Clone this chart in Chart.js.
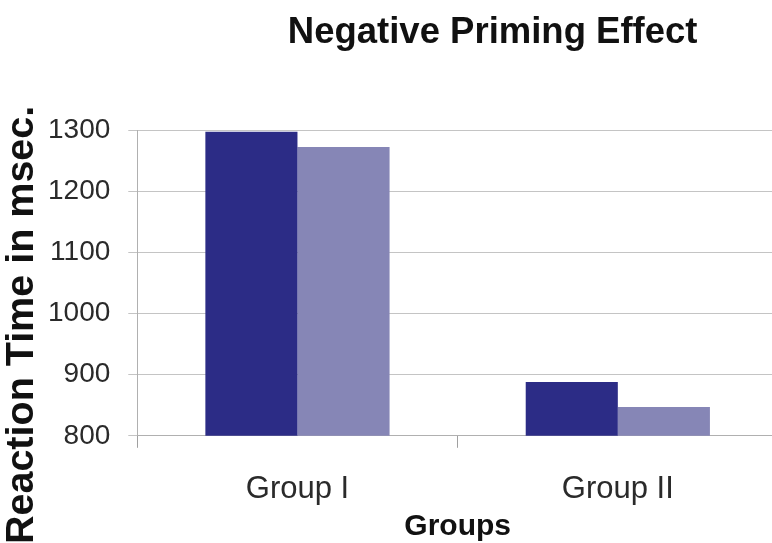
<!DOCTYPE html>
<html>
<head>
<meta charset="utf-8">
<script src="https://cdn.jsdelivr.net/npm/chart.js@4.4.1/dist/chart.umd.min.js"></script>
<style>
  html, body { margin: 0; padding: 0; background: #ffffff; overflow: hidden; }
  #wrap { position: relative; width: 780px; height: 543px; }
</style>
</head>
<body>
<div id="wrap"><canvas id="chart"></canvas></div>
<script>
// Reaction times (msec) per group
const categories = ['Group I', 'Group II'];
const seriesA = [1297, 888];
const seriesB = [1272, 847];
const yTicks = [800, 900, 1000, 1100, 1200, 1300];

const chartTitle = 'Negative Priming Effect';
const yTitle = 'Reaction Time in msec.';
const xTitle = 'Groups';

const FONT = '"Liberation Sans", Arial, Helvetica, sans-serif';

// Chart title and rotated y-axis title drawn onto the canvas
const titlesPlugin = {
  id: 'titles',
  afterDraw(chart) {
    const ctx = chart.ctx;
    const area = chart.chartArea;
    ctx.save();
    ctx.fillStyle = '#111111';
    ctx.textAlign = 'center';
    ctx.textBaseline = 'alphabetic';
    ctx.font = 'bold 36.5px ' + FONT;
    ctx.fillText(chartTitle, (area.left + area.right) / 2 + 35, 43);

    ctx.translate(22, (area.top + area.bottom) / 2 + 42);
    ctx.rotate(-Math.PI / 2);
    ctx.textBaseline = 'middle';
    ctx.font = 'bold 39.5px ' + FONT;
    ctx.fillText(yTitle, 0, 0);
    ctx.restore();
  }
};

new Chart(document.getElementById('chart'), {
  type: 'bar',
  data: {
    labels: categories,
    datasets: [
      { label: 'Series 1', data: seriesA, backgroundColor: '#2c2c86', borderWidth: 0 },
      { label: 'Series 2', data: seriesB, backgroundColor: '#8686b6', borderWidth: 0 }
    ]
  },
  options: {
    responsive: true,
    maintainAspectRatio: false,
    animation: false,
    layout: { padding: { left: 30, right: 2, top: 130, bottom: 0 } },
    plugins: {
      legend: { display: false },
      title: { display: false },
      tooltip: { enabled: false }
    },
    datasets: { bar: { barPercentage: 1.0, categoryPercentage: 0.575 } },
    scales: {
      x: {
        grid: { display: true, drawOnChartArea: false, color: '#a0a0a0', tickLength: 12, offset: true },
        border: { display: true, color: '#b0b0b0', width: 1 },
        ticks: { color: '#2a2a2a', font: { family: FONT, size: 31 }, padding: 23 },
        title: {
          display: true, text: xTitle, color: '#111111',
          font: { family: FONT, size: 30, weight: 'bold', lineHeight: 1.0 },
          padding: { top: -19, bottom: 1 }
        }
      },
      y: {
        min: 800,
        max: 1300,
        afterBuildTicks(scale) { scale.ticks = yTicks.map(v => ({ value: v })); },
        grid: { color: '#c4c4c4', tickLength: 9, drawTicks: true },
        border: { display: true, color: '#b0b0b0', width: 1 },
        ticks: { color: '#2a2a2a', font: { family: FONT, size: 28 }, padding: 18, callback: (v) => String(v) }
      }
    }
  },
  plugins: [titlesPlugin]
});
</script>
</body>
</html>
